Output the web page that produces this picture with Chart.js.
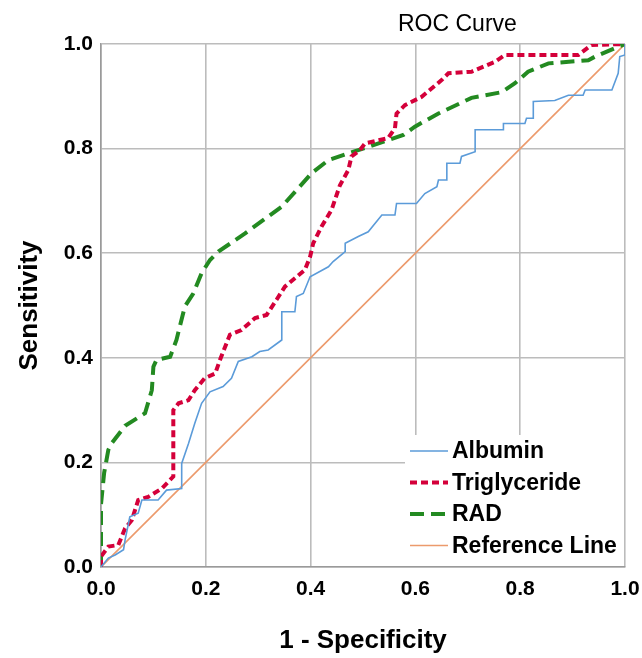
<!DOCTYPE html>
<html>
<head>
<meta charset="utf-8">
<title>ROC Curve</title>
<script src="https://cdn.jsdelivr.net/npm/chart.js@4.4.1/dist/chart.umd.min.js"></script>
<style>
    html, body { margin: 0; padding: 0; background: #fff; }
    #wrap { width: 642px; height: 658px; position: relative; }
</style>
</head>
<body>
<div id="wrap"><canvas id="rocChart"></canvas></div>
<script>
const FONT = "'Liberation Sans', Arial, sans-serif";

const chartTitle = 'ROC Curve';
const xAxisTitle = '1 - Specificity';
const yAxisTitle = 'Sensitivity';
const axisTicks = [0, 0.2, 0.4, 0.6, 0.8, 1.0];
const seriesNames = ['Albumin', 'Triglyceride', 'RAD', 'Reference Line'];

// values
const albuminX = [0, 0.014, 0.027, 0.043, 0.046, 0.055, 0.071, 0.078, 0.109, 0.125, 0.154, 0.154, 0.167, 0.179, 0.192, 0.208, 0.233, 0.249, 0.262, 0.288, 0.303, 0.319, 0.345, 0.345, 0.37, 0.373, 0.386, 0.399, 0.434, 0.443, 0.466, 0.466, 0.491, 0.51, 0.536, 0.561, 0.564, 0.602, 0.618, 0.641, 0.644, 0.66, 0.66, 0.685, 0.688, 0.714, 0.714, 0.768, 0.768, 0.809, 0.812, 0.825, 0.825, 0.866, 0.892, 0.92, 0.924, 0.975, 0.987, 0.99, 1, 1];
const albuminY = [0, 0.017, 0.023, 0.033, 0.052, 0.096, 0.103, 0.128, 0.128, 0.147, 0.15, 0.198, 0.236, 0.275, 0.313, 0.335, 0.345, 0.361, 0.393, 0.402, 0.412, 0.415, 0.434, 0.488, 0.488, 0.517, 0.523, 0.555, 0.574, 0.584, 0.603, 0.619, 0.632, 0.641, 0.673, 0.673, 0.695, 0.695, 0.714, 0.727, 0.74, 0.74, 0.772, 0.772, 0.785, 0.794, 0.836, 0.836, 0.848, 0.848, 0.858, 0.858, 0.89, 0.892, 0.902, 0.902, 0.912, 0.912, 0.944, 0.976, 0.979, 1];

const trigX = [0, 0, 0.014, 0.033, 0.046, 0.059, 0.071, 0.09, 0.116, 0.138, 0.138, 0.148, 0.167, 0.179, 0.198, 0.218, 0.227, 0.246, 0.268, 0.294, 0.316, 0.335, 0.351, 0.37, 0.389, 0.399, 0.405, 0.421, 0.44, 0.456, 0.472, 0.478, 0.494, 0.504, 0.548, 0.561, 0.564, 0.58, 0.612, 0.65, 0.663, 0.707, 0.752, 0.771, 0.911, 0.936, 1];
const trigY = [0, 0.02, 0.039, 0.042, 0.074, 0.09, 0.128, 0.134, 0.15, 0.173, 0.30, 0.313, 0.319, 0.338, 0.361, 0.37, 0.396, 0.444, 0.453, 0.476, 0.482, 0.511, 0.536, 0.552, 0.568, 0.593, 0.619, 0.651, 0.683, 0.73, 0.759, 0.785, 0.797, 0.81, 0.82, 0.839, 0.867, 0.883, 0.899, 0.931, 0.944, 0.947, 0.966, 0.979, 0.979, 0.998, 1];

const radX = [0, 0, 0.006, 0.014, 0.02, 0.046, 0.084, 0.097, 0.10, 0.106, 0.132, 0.144, 0.16, 0.176, 0.192, 0.208, 0.224, 0.275, 0.345, 0.402, 0.434, 0.472, 0.50, 0.548, 0.577, 0.599, 0.644, 0.707, 0.765, 0.79, 0.815, 0.854, 0.93, 0.943, 1];
const radY = [0, 0.12, 0.18, 0.224, 0.236, 0.27, 0.294, 0.338, 0.383, 0.396, 0.402, 0.434, 0.498, 0.523, 0.562, 0.587, 0.603, 0.638, 0.689, 0.753, 0.778, 0.791, 0.80, 0.816, 0.826, 0.842, 0.867, 0.897, 0.908, 0.925, 0.947, 0.963, 0.969, 0.976, 1];

const refX = [0, 1];
const refY = [0, 1];

const toPoints = (xs, ys) => xs.map((x, i) => ({ x: x, y: ys[i] }));

// title sits right of centre, as in the SPSS output
const titlePlugin = {
    id: 'rocTitle',
    afterDraw(chart) {
        const { ctx, chartArea } = chart;
        ctx.save();
        ctx.font = `23px ${FONT}`;
        ctx.fillStyle = '#000';
        ctx.textAlign = 'left';
        ctx.textBaseline = 'middle';
        ctx.fillText(chartTitle, chartArea.left + 297, 25);
        ctx.restore();
    }
};

// legend box in the lower right corner of the plot
const legendPlugin = {
    id: 'rocLegend',
    afterDatasetsDraw(chart) {
        const { ctx, chartArea } = chart;
        const left = chartArea.right - 220;
        const top = chartArea.bottom - 132;
        ctx.save();
        ctx.fillStyle = '#fff';
        ctx.fillRect(left, top, chartArea.right - left - 1, chartArea.bottom - top - 1);

        chart.data.datasets.forEach((ds, i) => {
            const y = top + 16 + i * 31.5;
            ctx.beginPath();
            ctx.strokeStyle = ds.borderColor;
            ctx.lineWidth = ds.borderWidth;
            ctx.setLineDash(ds.borderDash || []);
            ctx.moveTo(left + 5, y);
            ctx.lineTo(left + 43, y);
            ctx.stroke();
            ctx.setLineDash([]);
            ctx.fillStyle = '#000';
            ctx.font = `bold 23px ${FONT}`;
            ctx.textAlign = 'left';
            ctx.textBaseline = 'middle';
            ctx.fillText(ds.label, left + 47, y + 1);
        });
        ctx.restore();
    }
};

const gridColor = '#bcbcbc';

new Chart(document.getElementById('rocChart'), {
    type: 'scatter',
    data: {
        datasets: [
            {
                label: seriesNames[0],
                data: toPoints(albuminX, albuminY),
                borderColor: '#5b9bd9',
                borderWidth: 1.6,
                showLine: true,
                pointRadius: 0
            },
            {
                label: seriesNames[1],
                data: toPoints(trigX, trigY),
                borderColor: '#d4003a',
                borderWidth: 4,
                borderDash: [7, 4],
                showLine: true,
                pointRadius: 0
            },
            {
                label: seriesNames[2],
                data: toPoints(radX, radY),
                borderColor: '#238a21',
                borderWidth: 4,
                borderDash: [14, 7],
                showLine: true,
                pointRadius: 0
            },
            {
                label: seriesNames[3],
                data: toPoints(refX, refY),
                borderColor: '#ec9a6c',
                borderWidth: 1.6,
                showLine: true,
                pointRadius: 0
            }
        ]
    },
    options: {
        responsive: true,
        maintainAspectRatio: false,
        animation: false,
        layout: {
            padding: { top: 44, right: 17, left: 0, bottom: 0 }
        },
        plugins: {
            legend: { display: false },
            tooltip: { enabled: false },
            title: { display: false }
        },
        scales: {
            x: {
                type: 'linear',
                min: 0,
                max: 1,
                afterBuildTicks: scale => {
                    scale.ticks = axisTicks.map(v => ({ value: v }));
                },
                afterFit: scale => {
                    scale.height = 91;
                    scale.paddingLeft = 0;
                    scale.paddingRight = 0;
                },
                grid: {
                    color: gridColor,
                    lineWidth: 1.6,
                    drawTicks: false
                },
                border: { color: '#9a9a9a', width: 1.6 },
                ticks: {
                    color: '#000',
                    padding: 10,
                    font: { family: FONT, size: 21, weight: 'bold' },
                    callback: v => v.toFixed(1)
                },
                title: {
                    display: true,
                    text: xAxisTitle,
                    color: '#000',
                    padding: { top: 0, bottom: 2 },
                    font: { family: FONT, size: 26, weight: 'bold' }
                }
            },
            y: {
                type: 'linear',
                min: 0,
                max: 1,
                afterBuildTicks: scale => {
                    scale.ticks = axisTicks.map(v => ({ value: v }));
                },
                afterFit: scale => {
                    scale.width = 101;
                    scale.paddingTop = 0;
                    scale.paddingBottom = 0;
                },
                grid: {
                    color: gridColor,
                    lineWidth: 1.6,
                    drawTicks: false
                },
                border: { color: '#9a9a9a', width: 1.6 },
                ticks: {
                    color: '#000',
                    padding: 8,
                    font: { family: FONT, size: 21, weight: 'bold' },
                    callback: v => v.toFixed(1)
                },
                title: {
                    display: true,
                    text: yAxisTitle,
                    color: '#000',
                    padding: { top: 14, bottom: 0 },
                    font: { family: FONT, size: 26, weight: 'bold' }
                }
            }
        }
    },
    plugins: [legendPlugin, titlePlugin]
});
</script>
</body>
</html>
